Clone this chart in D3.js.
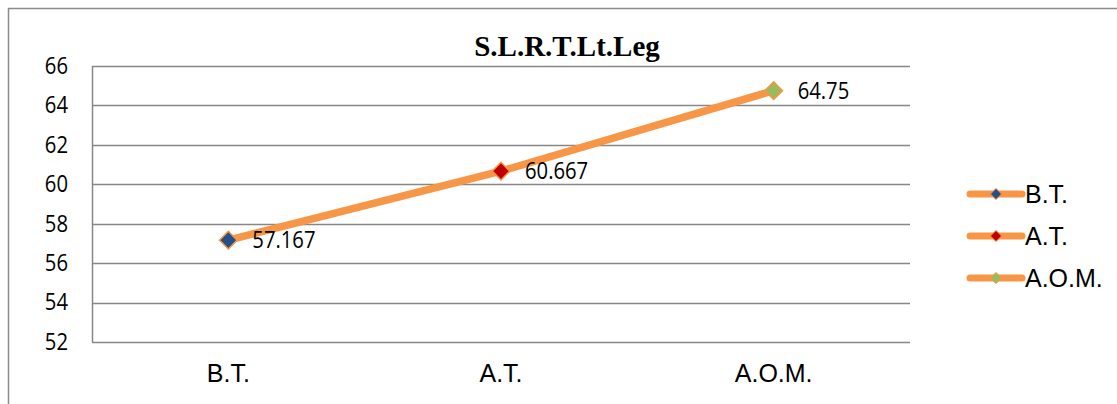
<!DOCTYPE html>
<html>
<head>
<meta charset="utf-8">
<script src="https://cdn.jsdelivr.net/npm/d3@7"></script>
<style>
  body { margin: 0; background: #fff; }
  svg { display: block; }
</style>
</head>
<body>
<div id="chart"></div>
<script>
/* DATA */
const categories = ["B.T.", "A.T.", "A.O.M."];
const values = [57.167, 60.667, 64.75];
const valueLabels = ["57.167", "60.667", "64.75"];
const markerColors = ["#254F89", "#C00000", "#9BBB59"];
const yTicks = [52, 54, 56, 58, 60, 62, 64, 66];
const title = "S.L.R.T.Lt.Leg";

/* CONSTANTS */
const width = 1117,
  height = 404,
  margin = { top: 66, bottom: 62, left: 92, right: 207 };

const svg = d3.select("#chart")
  .append("svg")
  .attr("width", width)
  .attr("height", height);

// outer chart border (only top and left visible in the crop)
svg.append("path")
  .attr("d", `M8.5,${height} V8.5 H${width}`)
  .attr("fill", "none")
  .attr("stroke", "#8c8c8c")
  .attr("stroke-width", 1.5);

/* SCALES */
const xScale = d3.scaleBand()
  .domain(categories)
  .range([margin.left, width - margin.right]);

const yScale = d3.scaleLinear()
  .domain([52, 66])
  .range([height - margin.bottom, margin.top]);

/* GRIDLINES */
svg.append("g")
  .selectAll("line")
  .data(yTicks)
  .join("line")
  .attr("x1", margin.left)
  .attr("x2", width - margin.right)
  .attr("y1", d => Math.round(yScale(d)) + 0.5)
  .attr("y2", d => Math.round(yScale(d)) + 0.5)
  .attr("stroke", "#878787")
  .attr("stroke-width", 1.5);

// left axis line
svg.append("line")
  .attr("x1", margin.left + 0.5)
  .attr("x2", margin.left + 0.5)
  .attr("y1", yScale(66))
  .attr("y2", yScale(52))
  .attr("stroke", "#878787")
  .attr("stroke-width", 1.5);

/* AXES */
// y labels: narrow Calibri look, Open Sans squeezed a bit
const yAxis = d3.axisLeft(yScale).tickValues(yTicks).tickSize(0).tickPadding(0);
svg.append("g")
  .attr("transform", `translate(68,0)`)
  .call(yAxis)
  .call(g => g.select(".domain").remove())
  .selectAll("text")
  .attr("font-family", "'Open Sans', sans-serif")
  .attr("font-size", 23)
  .attr("fill", "#000")
  .attr("transform", "scale(0.88,1)");

const xAxis = d3.axisBottom(xScale).tickSize(0).tickPadding(22);
svg.append("g")
  .attr("transform", `translate(0,${height - margin.bottom})`)
  .call(xAxis)
  .call(g => g.select(".domain").remove())
  .selectAll("text")
  .attr("font-family", "'Liberation Sans', Arial, sans-serif")
  .attr("font-size", 25)
  .attr("fill", "#000");

/* TITLE */
svg.append("text")
  .attr("x", 567)
  .attr("y", 56)
  .attr("text-anchor", "middle")
  .attr("font-family", "'Liberation Serif', 'Times New Roman', serif")
  .attr("font-weight", "bold")
  .attr("font-size", 29)
  .text(title);

/* LINE */
const points = categories.map((c, i) => ({
  cat: c, value: values[i], label: valueLabels[i], color: markerColors[i]
}));
const cx = d => xScale(d.cat) + xScale.bandwidth() / 2;

const line = d3.line()
  .x(cx)
  .y(d => yScale(d.value));

svg.append("path")
  .datum(points)
  .attr("d", line)
  .attr("fill", "none")
  .attr("stroke", "#F79646")
  .attr("stroke-width", 7.5)
  .attr("stroke-linecap", "round");

/* MARKERS */
const diamond = d3.symbol().type(d3.symbolDiamond2).size(200);
svg.append("g")
  .selectAll("path")
  .data(points)
  .join("path")
  .attr("transform", d => `translate(${cx(d)},${yScale(d.value)})`)
  .attr("d", diamond)
  .attr("fill", d => d.color)
  .attr("stroke", "#F79646")
  .attr("stroke-width", 1.5);

/* DATA LABELS */
svg.append("g")
  .selectAll("text")
  .data(points)
  .join("text")
  .attr("transform", d => `translate(${cx(d) + 24},${yScale(d.value) + 8}) scale(0.88,1)`)
  .attr("font-family", "'Open Sans', sans-serif")
  .attr("font-size", 23)
  .attr("fill", "#000")
  .text(d => d.label);

/* LEGEND */
const legend = svg.append("g")
  .selectAll("g")
  .data(points)
  .join("g")
  .attr("transform", (d, i) => `translate(970,${194 + i * 42})`);

legend.append("line")
  .attr("x1", 0)
  .attr("x2", 52)
  .attr("stroke", "#F79646")
  .attr("stroke-width", 7)
  .attr("stroke-linecap", "round");

legend.append("path")
  .attr("transform", "translate(26,0)")
  .attr("d", d3.symbol().type(d3.symbolDiamond2).size(80))
  .attr("fill", d => d.color)
  .attr("stroke", "#F79646")
  .attr("stroke-width", 1);

legend.append("text")
  .attr("x", 55)
  .attr("y", 9)
  .attr("font-family", "'Liberation Sans', Arial, sans-serif")
  .attr("font-size", 25)
  .attr("fill", "#000")
  .text(d => d.cat);
</script>
</body>
</html>
